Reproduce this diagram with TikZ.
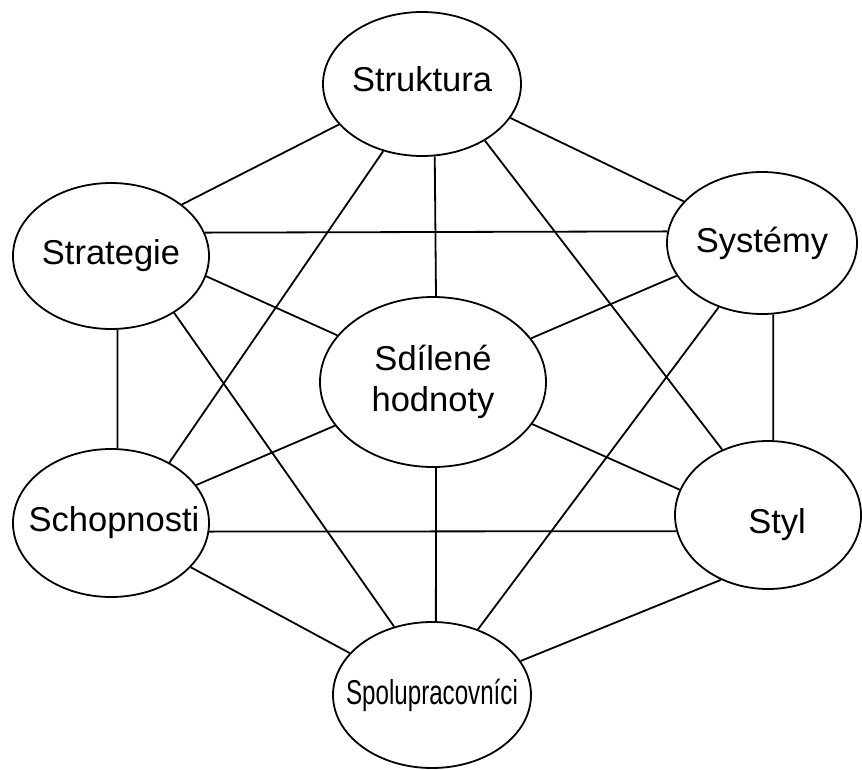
\documentclass[tikz,border=0pt]{standalone}
\usepackage{fontspec}
\setmainfont{Liberation Sans}
\usepackage{graphicx}
\usetikzlibrary{shapes.geometric}

\begin{document}
\begin{tikzpicture}[x=1pt,y=-1pt,line width=1.8pt,
	factor/.style={draw,ellipse,inner sep=0pt,align=center,
		font=\fontsize{34.5}{41}\selectfont}]
	\useasboundingbox (0,0) rectangle (862,769);
	\node[factor,minimum width=198pt,minimum height=144pt] (struk) at (422,84) {\raisebox{5pt}[\height][\depth]{Struktura}};
	\node[factor,minimum width=196pt,minimum height=146pt] (strat) at (111,256) {Strategie};
	\node[factor,minimum width=190pt,minimum height=142pt] (sys) at (762,243) {Systémy};
	\node[factor,minimum width=226pt,minimum height=170pt] (sdil) at (433,382) {Sdílené\\hodnoty};
	\node[factor,minimum width=196pt,minimum height=148pt] (schop) at (111,523) {\makebox[0pt]{\hspace*{6pt}Schopnosti}};
	\node[factor,minimum width=186pt,minimum height=148pt] (styl) at (768,515) {\hspace*{18pt}\raisebox{-10pt}[\height][\depth]{Styl}};
	\node[factor,minimum width=198pt,minimum height=146pt] (spolu) at (432,695) {\makebox[0pt]{\scalebox{0.7}[1]{Spolupracovníci}}};
	\draw (struk.206) -- (strat.36);
	\draw (struk.339) -- (sys.152);
	\draw (struk.280) -- (sdil.88);
	\draw (struk.240) -- (schop.46);
	\draw (struk.318) -- (styl.125);
	\draw (strat.14) -- (sys.173);
	\draw (strat.348) -- (sdil.154);
	\draw (strat.275) -- (schop.85);
	\draw (strat.318) -- (spolu.119);
	\draw (sys.201) -- (sdil.24);
	\draw (sys.279) -- (styl.86);
	\draw (sys.236) -- (spolu.55);
	\draw (sdil.204) -- (schop.24);
	\draw (sdil.337) -- (styl.164);
	\draw (sdil.272) -- (spolu.87);
	\draw (schop.355) -- (styl.190);
	\draw (schop.331) -- (spolu.153);
	\draw (styl.234) -- (spolu.21);
\end{tikzpicture}
\end{document}
